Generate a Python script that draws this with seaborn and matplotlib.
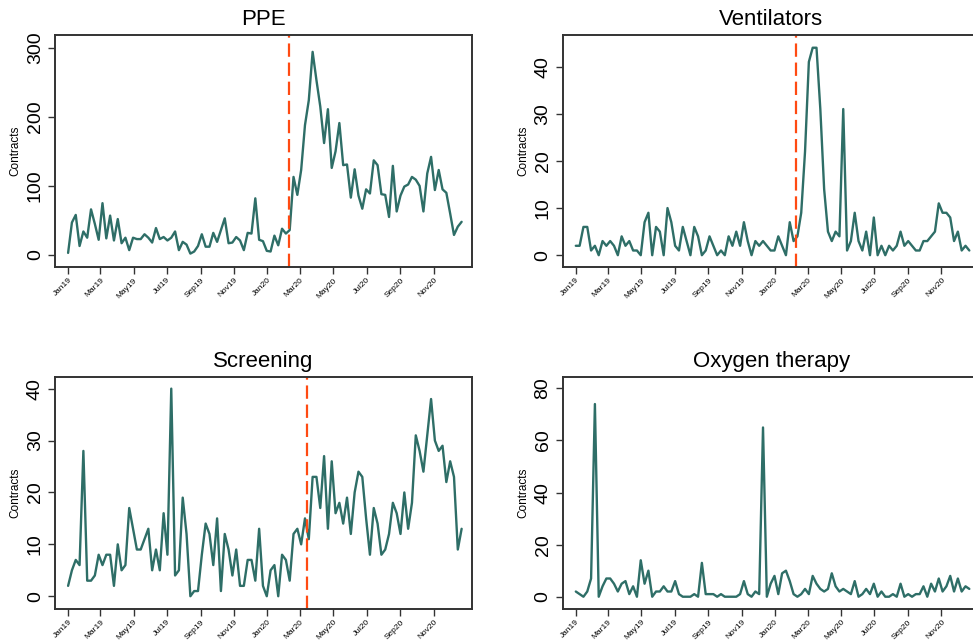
import pandas as pd
import numpy as np
import seaborn as sns
import matplotlib.pyplot as plt
import matplotlib.dates as mdates

# weekly contract counts, Jan 2019 - Dec 2020
weeks = pd.date_range('2019-01-01', periods=104, freq='7D')

ppe = [3, 47, 58, 13, 34, 25, 66, 45, 22, 75,
       24, 57, 21, 52, 17, 25, 7, 25, 23, 23,
       30, 25, 18, 39, 23, 26, 21, 25, 34, 7,
       19, 15, 2, 5, 13, 30, 12, 12, 32, 19,
       36, 53, 17, 18, 26, 21, 7, 32, 31, 82,
       22, 20, 6, 5, 28, 14, 38, 31, 36, 113,
       87, 123, 188, 224, 294, 253, 215, 162, 211, 126,
       150, 191, 130, 131, 83, 124, 86, 67, 95, 89,
       137, 130, 88, 87, 55, 129, 63, 86, 99, 102,
       113, 109, 100, 63, 118, 142, 94, 123, 95, 90,
       60, 29, 41, 48]

ventilators = [2, 2, 6, 6, 1, 2, 0, 3, 2, 3,
               2, 0, 4, 2, 3, 1, 1, 0, 7, 9,
               0, 6, 5, 0, 10, 7, 2, 1, 6, 3,
               0, 6, 4, 0, 1, 4, 2, 0, 1, 0,
               4, 2, 5, 2, 7, 3, 0, 3, 2, 3,
               2, 1, 1, 4, 2, 0, 7, 3, 4, 9,
               22, 41, 44, 44, 31, 14, 5, 3, 5, 4,
               31, 1, 3, 9, 3, 1, 5, 0, 8, 0,
               2, 0, 2, 1, 2, 5, 2, 3, 2, 1,
               1, 3, 3, 4, 5, 11, 9, 9, 8, 3,
               5, 1, 2, 1]

screening = [2, 5, 7, 6, 28, 3, 3, 4, 8, 6,
             8, 8, 2, 10, 5, 6, 17, 13, 9, 9,
             11, 13, 5, 9, 5, 16, 8, 40, 4, 5,
             19, 12, 0, 1, 1, 8, 14, 12, 6, 15,
             1, 12, 9, 4, 9, 2, 2, 7, 7, 3,
             13, 2, 0, 5, 6, 0, 8, 7, 3, 12,
             13, 10, 15, 11, 23, 23, 17, 27, 13, 26,
             16, 18, 14, 19, 12, 20, 24, 23, 15, 8,
             17, 14, 8, 9, 12, 18, 16, 12, 20, 13,
             18, 31, 28, 24, 31, 38, 30, 28, 29, 22,
             26, 23, 9, 13]

oxygen = [2, 1, 0, 2, 7, 74, 0, 4, 7, 7,
          5, 2, 5, 6, 1, 4, 0, 14, 5, 10,
          0, 2, 2, 4, 2, 2, 6, 1, 0, 0,
          0, 1, 0, 13, 1, 1, 1, 0, 1, 0,
          0, 0, 0, 1, 6, 1, 0, 2, 1, 65,
          0, 5, 8, 1, 9, 10, 6, 1, 0, 1,
          3, 1, 8, 5, 3, 2, 3, 9, 4, 2,
          3, 2, 1, 6, 0, 1, 3, 1, 5, 0,
          2, 0, 0, 1, 0, 5, 0, 1, 0, 1,
          1, 4, 0, 5, 2, 7, 2, 4, 8, 2,
          7, 2, 4, 3]

titles = ['PPE', 'Ventilators', 'Screening', 'Oxygen therapy']
series = [ppe, ventilators, screening, oxygen]
cutoffs = ['2020-02-09', '2020-02-09', '2020-03-14', None]
ylims = [(-17.4, 318.4), (-2.5, 46.7), (-2.4, 42.3), (-4.6, 84.5)]
yticks = [[0, 100, 200, 300], [0, 10, 20, 30, 40], [0, 10, 20, 30, 40], [0, 20, 40, 60, 80]]
tick_dates = pd.date_range('2019-01-01', '2020-11-01', freq='2MS')

sns.set_style('ticks')
plt.rcParams['font.family'] = ['Liberation Sans', 'DejaVu Sans']
plt.rcParams['text.color'] = 'black'
plt.rcParams['axes.labelcolor'] = 'black'
plt.rcParams['xtick.labelcolor'] = 'black'
plt.rcParams['ytick.labelcolor'] = 'black'

fig = plt.figure(figsize=(9.73, 6.42), dpi=100)
W, H = 973, 642
boxes = [(55, 35), (562.7, 35), (55, 376.7), (562.7, 376.7)]
aw, ah = 417, 232

line_color = '#2e6e67'
red = '#ff4a12'

for k in range(4):
    x0, y0 = boxes[k]
    ax = fig.add_axes([x0 / W, 1 - (y0 + ah) / H, aw / W, ah / H])
    sns.lineplot(x=weeks, y=series[k], ax=ax, color=line_color, linewidth=1.7)
    if cutoffs[k] is not None:
        ax.axvline(pd.Timestamp(cutoffs[k]), color=red, linewidth=1.6,
                   dashes=(6, 2.6))
    ax.set_xlim(pd.Timestamp('2018-12-08'), pd.Timestamp('2021-01-10'))
    ax.set_ylim(*ylims[k])
    ax.set_yticks(yticks[k])
    ax.set_xticks(tick_dates)
    ax.xaxis.set_major_formatter(mdates.DateFormatter('%b%y'))
    ax.tick_params(axis='y', labelsize=14, length=5, width=1, color='#333333', pad=3)
    ax.tick_params(axis='x', labelsize=6, length=5, width=1, color='#333333', pad=2)
    plt.setp(ax.get_yticklabels(), rotation=90, va='center')
    plt.setp(ax.get_xticklabels(), rotation=45, ha='right', rotation_mode='anchor')
    for sp in ax.spines.values():
        sp.set_visible(True)
        sp.set_linewidth(1.4)
        sp.set_color('#333333')
    ax.set_xlabel('')
    ax.set_ylabel('Contracts', fontsize=8.5, labelpad=4, color='black')
    ax.set_title(titles[k], fontsize=16, pad=7, color='black')

fig.savefig('out.png', dpi=100)
